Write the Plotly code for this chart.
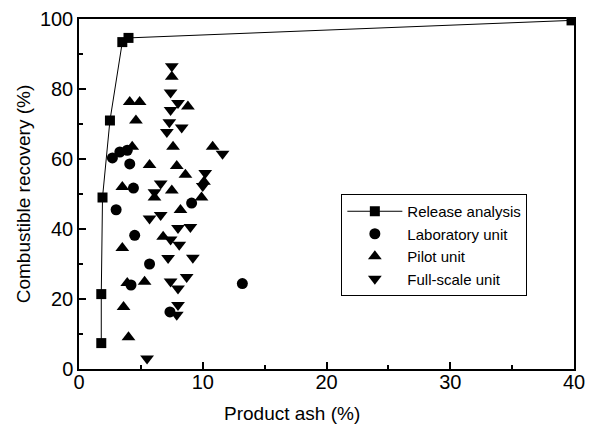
import plotly.graph_objects as go

# Release analysis (squares joined by line)
rel_x = [1.8, 1.8, 1.9, 2.5, 3.5, 4.0, 39.8]
rel_y = [7.4, 21.4, 49.0, 71.0, 93.4, 94.6, 99.6]

# Laboratory unit (circles)
lab_x = [2.7, 3.3, 3.9, 4.1, 4.4, 3.0, 9.1, 4.5, 5.7, 4.2, 7.35, 13.2]
lab_y = [60.3, 62.0, 62.5, 58.6, 51.7, 45.5, 47.4, 38.2, 30.0, 24.0, 16.3, 24.4]

# Pilot unit (up triangles)
pil_x = [7.5, 4.1, 4.9, 4.6, 8.8, 4.3, 7.6, 10.8, 5.7, 7.9, 8.6, 3.5, 7.5, 6.1,
         10.1, 9.9, 8.2, 6.8, 3.5, 3.9, 5.3, 3.6, 4.0]
pil_y = [83.5, 76.3, 76.3, 71.0, 75.0, 63.5, 63.5, 63.5, 58.3, 58.0, 55.5, 52.0, 51.0, 49.0,
         53.5, 49.0, 45.4, 37.8, 34.6, 24.6, 24.9, 17.7, 9.1]

# Full-scale unit (down triangles)
full_x = [7.5, 7.4, 8.0, 7.4, 7.3, 8.3, 7.1, 11.6, 10.2, 6.6, 10.0, 6.1, 5.7, 6.6,
          8.0, 9.0, 7.4, 8.1, 7.2, 9.2, 7.4, 8.7, 8.0, 8.0, 7.9, 5.5]
full_y = [86.5, 79.0, 76.0, 74.0, 70.5, 69.0, 67.7, 61.5, 56.0, 53.0, 52.3, 50.5, 43.0, 44.0,
          40.3, 40.6, 37.0, 35.5, 31.7, 31.8, 25.0, 26.3, 23.0, 18.3, 15.5, 3.0]

x_ticks = [0, 10, 20, 30, 40]
y_ticks = [0, 20, 40, 60, 80, 100]

fig = go.Figure()
fig.add_trace(go.Scatter(x=rel_x, y=rel_y, mode="lines+markers", name="Release analysis",
                         line=dict(color="black", width=1),
                         marker=dict(symbol="square", size=10, color="black")))
fig.add_trace(go.Scatter(x=lab_x, y=lab_y, mode="markers", name="Laboratory unit",
                         marker=dict(symbol="circle", size=11, color="black")))
fig.add_trace(go.Scatter(x=pil_x, y=pil_y, mode="markers", name="Pilot unit",
                         marker=dict(symbol="triangle-up", size=12, color="black")))
fig.add_trace(go.Scatter(x=full_x, y=full_y, mode="markers", name="Full-scale unit",
                         marker=dict(symbol="triangle-down", size=12, color="black")))

axis_common = dict(showgrid=False, zeroline=False, showline=True, linecolor="black",
                   linewidth=1.5, mirror=True, ticks="inside", ticklen=7, tickwidth=1.5,
                   tickcolor="black", tickfont=dict(size=20, color="black"),
                   automargin=False)

fig.update_layout(
    width=590, height=425,
    margin=dict(l=79, r=16, t=19, b=56),
    paper_bgcolor="white", plot_bgcolor="white",
    font=dict(family="Liberation Sans, Arial, sans-serif", color="black"),
    showlegend=True,
    legend=dict(x=0.53, y=0.50, xanchor="left", yanchor="top",
                bordercolor="black", borderwidth=1, bgcolor="white",
                itemwidth=55,
                font=dict(size=15, color="black"), tracegroupgap=0),
    xaxis=dict(range=[0, 40], tickvals=x_ticks, ticklabelstandoff=-6,
               minor=dict(dtick=5, ticks="inside", ticklen=4, tickcolor="black"),
               **axis_common),
    yaxis=dict(range=[0, 100], tickvals=y_ticks,
               title=dict(text="Combustible recovery (%)", font=dict(size=19), standoff=4),
               minor=dict(dtick=10, ticks="inside", ticklen=4, tickcolor="black"),
               **axis_common),
    annotations=[dict(text="Product ash (%)", xref="paper", yref="paper",
                      x=0.43, y=-0.128, xanchor="center", yanchor="middle",
                      showarrow=False, font=dict(size=19, color="black"))],
)

fig.write_html("out.html")
